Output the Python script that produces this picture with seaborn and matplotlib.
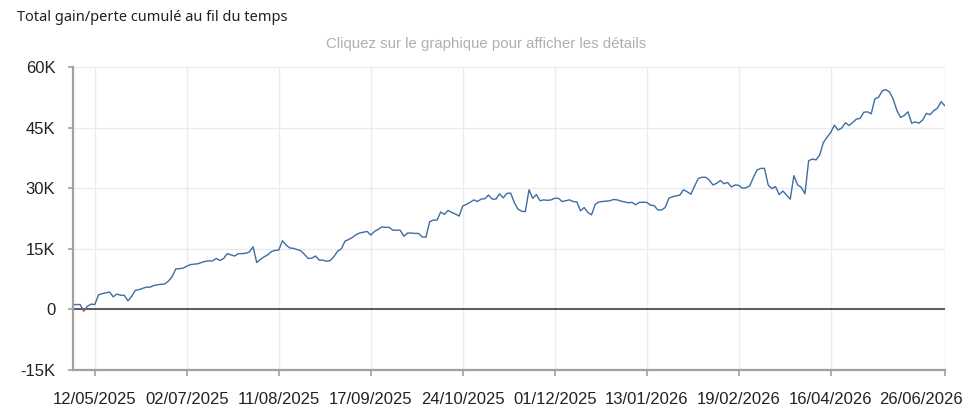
import numpy as np
import pandas as pd
import seaborn as sns
import matplotlib.pyplot as plt
from matplotlib.patches import Rectangle
from matplotlib.transforms import ScaledTranslation

# cumulative gain/loss, in thousands, one point per record
gain_k = [
    1.2, 1.2, 1.2, -0.4, 0.8, 1.3, 1.2, 3.6, 3.9, 4.1,
    4.3, 3.1, 3.8, 3.5, 3.5, 2.1, 3.2, 4.7, 4.9, 5.2,
    5.5, 5.5, 5.9, 6.1, 6.2, 6.3, 7.0, 8.1, 10.0, 10.1,
    10.2, 10.7, 11.1, 11.2, 11.3, 11.6, 11.9, 12.0, 12.0, 12.6,
    12.1, 12.6, 13.8, 13.5, 13.2, 13.8, 13.8, 13.9, 14.2, 15.5,
    11.6, 12.4, 13.0, 13.5, 14.3, 14.6, 14.7, 17.0, 15.9, 15.2,
    15.1, 14.8, 14.5, 13.6, 12.6, 12.7, 13.2, 12.2, 12.2, 11.9,
    12.1, 13.1, 14.4, 15.0, 16.9, 17.3, 17.8, 18.5, 18.9, 19.1,
    19.3, 18.4, 19.3, 19.8, 20.4, 20.3, 20.3, 19.6, 19.6, 19.6,
    18.1, 18.9, 18.9, 18.8, 18.8, 17.9, 17.9, 21.7, 22.1, 22.1,
    24.1, 23.5, 24.5, 24.0, 23.6, 23.1, 25.6, 26.0, 26.5, 27.1,
    26.7, 27.3, 27.4, 28.3, 27.3, 27.3, 28.6, 27.6, 28.7, 28.8,
    26.5, 24.8, 24.3, 24.2, 29.6, 27.5, 28.4, 26.9, 27.1, 27.0,
    27.1, 27.5, 27.5, 26.7, 26.9, 27.1, 26.7, 26.6, 24.4, 25.2,
    24.0, 23.4, 26.0, 26.6, 26.7, 26.8, 26.9, 27.2, 27.1, 26.8,
    26.6, 26.4, 26.5, 25.9, 26.5, 26.5, 26.5, 25.8, 25.7, 24.6,
    24.6, 25.2, 27.5, 27.9, 28.1, 28.3, 29.6, 29.1, 28.5, 30.5,
    32.4, 32.7, 32.7, 32.0, 30.8, 31.2, 31.9, 31.1, 31.4, 30.3,
    30.8, 30.7, 30.0, 30.1, 30.6, 32.7, 34.5, 34.9, 34.9, 30.8,
    29.9, 30.4, 28.4, 29.3, 28.3, 27.3, 33.1, 30.8, 30.2, 28.6,
    36.8, 37.2, 37.0, 38.2, 41.3, 42.6, 43.8, 45.6, 44.4, 44.9,
    46.2, 45.5, 46.3, 47.1, 47.3, 48.8, 48.9, 48.4, 52.1, 52.5,
    54.1, 54.4, 53.8, 52.0, 49.2, 47.5, 48.0, 48.9, 46.1, 46.4,
    46.1, 46.9, 48.5, 48.2, 49.2, 49.8, 51.4, 50.4,
]
tick_pos = [6, 31, 56, 81, 106, 131, 156, 181, 206, 237]
tick_labels = ["12/05/2025", "02/07/2025", "11/08/2025", "17/09/2025",
               "24/10/2025", "01/12/2025", "13/01/2026", "19/02/2026",
               "16/04/2026", "26/06/2026"]
y_ticks = [-15000, 0, 15000, 30000, 45000, 60000]
y_labels = ["-15K", "0", "15K", "30K", "45K", "60K"]

df = pd.DataFrame({"idx": np.arange(len(gain_k)), "gain": np.array(gain_k) * 1000})

sns.set_theme(style="white")
plt.rcParams["font.family"] = ["Liberation Sans", "DejaVu Sans"]

fig = plt.figure(figsize=(9.7, 4.16), dpi=100)
ax = fig.add_axes([0.075, 0.1106, 0.899, 0.7284])

line_col = "#3d6da4"
sns.lineplot(data=df, x="idx", y="gain", ax=ax, color=line_col, lw=1.0)

# negative part drawn in red
neg = ax.plot(df["idx"], df["gain"], color="#d9433b", lw=1.0, zorder=3)[0]
neg.set_clip_path(Rectangle((0, -15000), len(gain_k), 15000, transform=ax.transData))

ax.axhline(0, color="#333333", lw=1.1, zorder=1)

ax.set_xlim(0, len(gain_k) - 1)
ax.set_ylim(-15000, 60000)
ax.set_xticks(tick_pos)
ax.set_xticklabels(tick_labels)
ax.set_yticks(y_ticks)
ax.set_yticklabels(y_labels)
ax.set_xlabel("")
ax.set_ylabel("")

ax.grid(True, color="#ebebeb", lw=1.0)
ax.set_axisbelow(True)
for s in ["top", "right"]:
    ax.spines[s].set_visible(False)
for s in ["left", "bottom"]:
    ax.spines[s].set_color("#a0a0a0")
    ax.spines[s].set_linewidth(1.6)

ax.tick_params(axis="x", bottom=True, length=4.5, width=1.2, color="#a0a0a0",
               pad=11, labelsize=12, labelcolor="#222222")
ax.tick_params(axis="y", left=True, length=3.5, width=1.2, color="#a0a0a0",
               pad=9, labelsize=12, labelcolor="#222222")

# keep the last date inside the figure
last = ax.get_xticklabels()[-1]
last.set_transform(last.get_transform() + ScaledTranslation(-0.24, 0, fig.dpi_scale_trans))

fig.text(0.0175, 0.957, "Total gain/perte cumulé au fil du temps", fontsize=10.5,
         color="#222222", family=["Noto Sans", "DejaVu Sans"], va="center")
fig.text(0.501, 0.894, "Cliquez sur le graphique pour afficher les détails",
         fontsize=10.8, color="#b0b0b0", ha="center", va="center")

fig.savefig("out.png", dpi=100)
